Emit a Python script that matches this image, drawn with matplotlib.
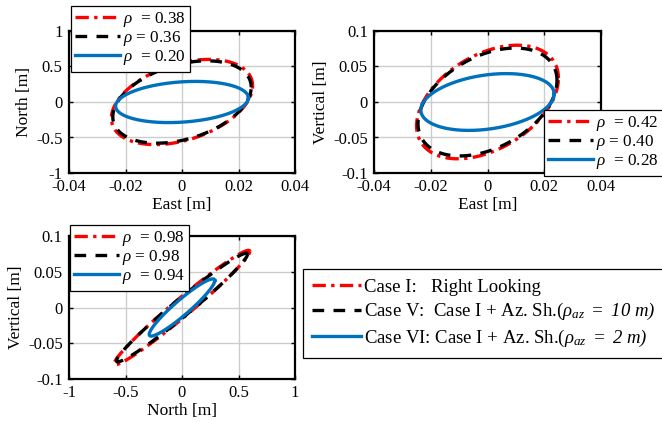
import matplotlib
matplotlib.use("Agg")
import matplotlib.pyplot as plt
import numpy as np
from matplotlib.lines import Line2D

plt.rcParams['font.family'] = ['Liberation Serif', 'DejaVu Serif']
plt.rcParams['mathtext.fontset'] = 'custom'
plt.rcParams['mathtext.rm'] = 'Liberation Serif:italic'
plt.rcParams['mathtext.it'] = 'Liberation Serif:italic'
plt.rcParams['axes.unicode_minus'] = False
plt.rcParams['font.size'] = 12

# ---- data: ellipse half-extents (x, y) and correlation per case ----
# order: Case I, Case V, Case VI
en_half_x = [0.025, 0.0245, 0.0235]   # East [m]
en_half_y = [0.60, 0.58, 0.29]        # North [m]
en_rho = [0.38, 0.36, 0.20]

ev_half_x = [0.025, 0.0245, 0.0235]   # East [m]
ev_half_y = [0.080, 0.076, 0.040]     # Vertical [m]
ev_rho = [0.42, 0.40, 0.28]

nv_half_x = [0.60, 0.58, 0.29]        # North [m]
nv_half_y = [0.080, 0.076, 0.040]     # Vertical [m]
nv_rho = [0.98, 0.98, 0.94]

case_labels = ["Case I:   Right Looking",
               r"Case V:  Case I + Az. Sh.($\rho_{az}\ =\ 10\ m)$",
               r"Case VI: Case I + Az. Sh.($\rho_{az}\ =\ 2\ m)$"]
# --------------------------------------------------------------------

colors = ["#ff0000", "#000000", "#0072bd"]
styles = [(0, (4, 1.6, 1, 1.6)), (0, (3.5, 2.8)), "-"]
LW = 2.4

t = np.linspace(0, 2 * np.pi, 400)


def ellipse(ax, hx, hy, rho, color, ls):
    x = hx * np.cos(t)
    y = hy * (rho * np.cos(t) + np.sqrt(1 - rho ** 2) * np.sin(t))
    return ax.plot(x, y, color=color, linestyle=ls, lw=LW)[0]


def style_axes(ax, xlim, ylim, xticks, yticks, xlabel, ylabel):
    ax.set_xlim(xlim)
    ax.set_ylim(ylim)
    ax.set_xticks(xticks)
    ax.set_yticks(yticks)
    ax.set_xticklabels([("%g" % v) for v in xticks])
    ax.set_yticklabels([("%g" % v) for v in yticks])
    ax.grid(True, color="#cccccc", lw=1)
    ax.set_axisbelow(True)
    ax.tick_params(direction="in", top=True, right=True, length=3, width=1, pad=4.5)
    for s in ax.spines.values():
        s.set_linewidth(1.6)
    ax.set_xlabel(xlabel, labelpad=1, fontsize=12.5)
    ax.set_ylabel(ylabel, labelpad=3, fontsize=12.5)


def rho_legend(ax, handles, rhos, x, y):
    labels = [r"$\rho$  = %.2f" % rhos[0], r"$\rho$ = %.2f" % rhos[1], r"$\rho$  = %.2f" % rhos[2]]
    leg = ax.legend(handles, labels, loc="upper left", bbox_to_anchor=(x / 662, 1 - y / 423),
                    bbox_transform=fig.transFigure, fancybox=False, framealpha=1,
                    edgecolor="black", handlelength=2.6, handletextpad=0.2,
                    borderpad=0.25, labelspacing=0.0, borderaxespad=0, fontsize=12.3)
    leg.get_frame().set_linewidth(0.9)


fig = plt.figure(figsize=(6.62, 4.23), dpi=100)
ax1 = fig.add_axes([69 / 662, 1 - 173 / 423, 226 / 662, 142 / 423])
ax2 = fig.add_axes([374 / 662, 1 - 173 / 423, 227 / 662, 142 / 423])
ax3 = fig.add_axes([69 / 662, 1 - 379 / 423, 226 / 662, 143 / 423])

h1 = [ellipse(ax1, en_half_x[i], en_half_y[i], en_rho[i], colors[i], styles[i]) for i in range(3)]
style_axes(ax1, (-0.04, 0.04), (-1, 1), [-0.04, -0.02, 0, 0.02, 0.04], [-1, -0.5, 0, 0.5, 1],
           "East [m]", "North [m]")
rho_legend(ax1, h1, en_rho, 71, 6)

h2 = [ellipse(ax2, ev_half_x[i], ev_half_y[i], ev_rho[i], colors[i], styles[i]) for i in range(3)]
style_axes(ax2, (-0.04, 0.04), (-0.1, 0.1), [-0.04, -0.02, 0, 0.02, 0.04], [-0.1, -0.05, 0, 0.05, 0.1],
           "East [m]", "Vertical [m]")
rho_legend(ax2, h2, ev_rho, 544, 110)

h3 = [ellipse(ax3, nv_half_x[i], nv_half_y[i], nv_rho[i], colors[i], styles[i]) for i in range(3)]
style_axes(ax3, (-1, 1), (-0.1, 0.1), [-1, -0.5, 0, 0.5, 1], [-0.1, -0.05, 0, 0.05, 0.1],
           "North [m]", "Vertical [m]")
rho_legend(ax3, h3, nv_rho, 70, 225)

proxies = [Line2D([], [], color=colors[i], linestyle=styles[i], lw=LW) for i in range(3)]
leg4 = fig.legend(proxies, case_labels, loc="upper left", bbox_to_anchor=(303 / 662, 1 - 269 / 423),
                  bbox_transform=fig.transFigure, fancybox=False, framealpha=1,
                  edgecolor="black", handlelength=2.6, handletextpad=0.15,
                  borderpad=0.5, labelspacing=0.3, borderaxespad=0, fontsize=13.5)
leg4.get_frame().set_linewidth(0.9)

fig.savefig("out.png", dpi=100)
